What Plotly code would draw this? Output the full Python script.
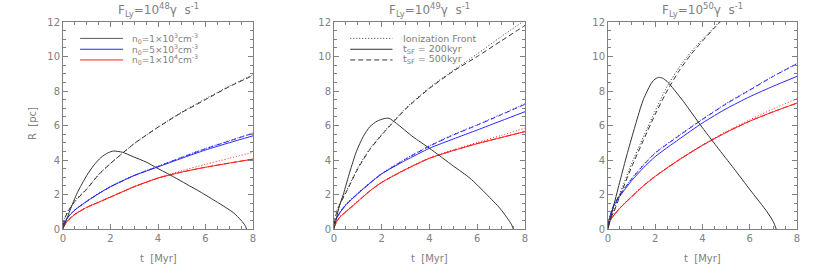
import plotly.graph_objects as go

# ---------------- data ----------------
T_GRID = [0, 0.1, 0.25, 0.5, 1, 1.5, 2, 3, 4, 5, 6, 7, 8]

# Panel 1: F_Ly = 1e48
P1_BLACK_200_T = [0, 0.3, 0.6, 1.0, 1.3, 1.6, 1.9, 2.12, 2.5, 2.96, 3.5, 3.94, 4.65, 5.2, 5.77, 6.5, 7.17, 7.5, 7.66, 7.73]
P1_BLACK_200_R = [0, 1.1, 2.1, 3.1, 3.7, 4.15, 4.42, 4.52, 4.45, 4.19, 3.88, 3.55, 3.03, 2.6, 2.16, 1.55, 0.95, 0.5, 0.22, 0]
P1_BLACK_500 = [0.2, 0.7, 1.1, 1.6, 2.3, 3.15, 3.8, 4.95, 5.9, 6.75, 7.5, 8.25, 8.9]
P1_BLACK_IF = [0.4, 0.75, 1.15, 1.65, 2.35, 3.15, 3.8, 4.95, 5.9, 6.78, 7.55, 8.28, 8.95]
P1_BLUE_200 = [0.2, 0.45, 0.75, 1.1, 1.6, 2.05, 2.45, 3.1, 3.6, 4.1, 4.58, 5.0, 5.4]
P1_BLUE_500 = [0.2, 0.45, 0.75, 1.1, 1.6, 2.05, 2.45, 3.1, 3.62, 4.15, 4.65, 5.1, 5.55]
P1_BLUE_IF = [0.25, 0.5, 0.78, 1.12, 1.62, 2.07, 2.47, 3.12, 3.64, 4.17, 4.67, 5.12, 5.57]
P1_RED_200 = [0.1, 0.3, 0.55, 0.85, 1.25, 1.55, 1.85, 2.45, 2.95, 3.3, 3.58, 3.82, 4.05]
P1_RED_500 = [0.1, 0.3, 0.55, 0.85, 1.25, 1.55, 1.85, 2.45, 2.95, 3.3, 3.58, 3.82, 4.05]
P1_RED_IF = [0.15, 0.35, 0.58, 0.87, 1.27, 1.57, 1.87, 2.47, 2.97, 3.38, 3.75, 4.1, 4.45]

# Panel 2: F_Ly = 1e49
P2_BLACK_200_T = [0, 0.2, 0.4, 0.66, 0.94, 1.22, 1.5, 1.8, 2.1, 2.3, 2.62, 3.31, 4.0, 5.0, 5.7, 6.4, 6.95, 7.25, 7.44, 7.51]
P2_BLACK_200_R = [0, 1.2, 2.05, 3.3, 4.5, 5.35, 5.93, 6.25, 6.4, 6.42, 6.12, 5.34, 4.68, 3.65, 2.94, 2.0, 1.2, 0.65, 0.25, 0]
P2_BLACK_500 = [0.3, 0.9, 1.45, 2.1, 3.5, 4.6, 5.45, 6.95, 8.15, 9.15, 10.0, 10.9, 11.8]
P2_BLACK_IF = [0.4, 1.0, 1.5, 2.15, 3.55, 4.65, 5.5, 7.0, 8.2, 9.2, 10.15, 11.15, 12.1]
P2_BLUE_200 = [0.3, 0.6, 0.95, 1.4, 2.05, 2.65, 3.2, 3.98, 4.68, 5.22, 5.74, 6.27, 6.8]
P2_BLUE_500 = [0.3, 0.6, 0.95, 1.4, 2.05, 2.65, 3.2, 4.05, 4.8, 5.45, 6.02, 6.62, 7.23]
P2_BLUE_IF = [0.35, 0.65, 1.0, 1.45, 2.1, 2.68, 3.23, 4.08, 4.83, 5.48, 6.05, 6.65, 7.27]
P2_RED_200 = [0.1, 0.4, 0.7, 1.0, 1.6, 2.2, 2.7, 3.45, 4.1, 4.55, 4.95, 5.3, 5.65]
P2_RED_500 = [0.1, 0.4, 0.7, 1.0, 1.6, 2.2, 2.7, 3.45, 4.1, 4.55, 4.95, 5.3, 5.65]
P2_RED_IF = [0.15, 0.45, 0.73, 1.03, 1.63, 2.23, 2.73, 3.48, 4.13, 4.6, 5.02, 5.42, 5.85]

# Panel 3: F_Ly = 1e50
P3_BLACK_200_T = [0, 0.24, 0.52, 0.8, 1.09, 1.37, 1.51, 1.79, 1.95, 2.14, 2.3, 2.5, 3.2, 3.91, 4.61, 5.32, 6.02, 6.73, 7.0, 7.12]
P3_BLACK_200_R = [0, 1.35, 2.85, 4.3, 5.7, 7.0, 7.55, 8.35, 8.65, 8.79, 8.75, 8.56, 7.38, 6.03, 4.77, 3.52, 2.26, 1.0, 0.42, 0]
P3_BLACK_T = [0, 0.1, 0.25, 0.5, 1, 1.5, 2, 2.5, 3, 3.5, 4, 4.5, 5]
P3_BLACK_500 = [0.2, 0.6, 1.0, 1.9, 3.6, 5.15, 6.65, 8.0, 9.15, 10.1, 10.9, 11.65, 12.35]
P3_BLACK_IF = [0.2, 0.7, 1.15, 2.05, 3.8, 5.35, 6.85, 8.25, 9.35, 10.25, 11.0, 11.7, 12.4]
P3_BLUE_200 = [0.3, 0.8, 1.35, 1.9, 2.8, 3.55, 4.2, 5.2, 6.15, 6.97, 7.67, 8.28, 8.85]
P3_BLUE_500 = [0.3, 0.8, 1.4, 1.97, 2.9, 3.7, 4.4, 5.4, 6.35, 7.25, 8.05, 8.85, 9.58]
P3_BLUE_IF = [0.35, 0.85, 1.45, 2.0, 2.93, 3.73, 4.43, 5.43, 6.38, 7.28, 8.08, 8.88, 9.6]
P3_RED_200 = [0.1, 0.5, 0.8, 1.2, 1.87, 2.5, 3.05, 4.0, 4.85, 5.6, 6.25, 6.8, 7.3]
P3_RED_500 = [0.1, 0.5, 0.8, 1.2, 1.87, 2.5, 3.05, 4.0, 4.85, 5.6, 6.25, 6.8, 7.3]
P3_RED_IF = [0.15, 0.55, 0.83, 1.23, 1.9, 2.53, 3.08, 4.03, 4.88, 5.65, 6.33, 6.97, 7.55]

TITLES = ["F<sub>Ly</sub>=10<sup>48</sup>γ  s<sup>-1</sup>",
          "F<sub>Ly</sub>=10<sup>49</sup>γ  s<sup>-1</sup>",
          "F<sub>Ly</sub>=10<sup>50</sup>γ  s<sup>-1</sup>"]
DENSITY_LABELS = ["n<sub>0</sub>=1×10<sup>3</sup>cm<sup>-3</sup>",
                  "n<sub>0</sub>=5×10<sup>3</sup>cm<sup>-3</sup>",
                  "n<sub>0</sub>=1×10<sup>4</sup>cm<sup>-3</sup>"]
STYLE_LABELS = ["Ionization Front", "t<sub>SF</sub> = 200kyr", "t<sub>SF</sub> = 500kyr"]
X_TICKS = [0, 2, 4, 6, 8]
Y_TICKS = [0, 2, 4, 6, 8, 10, 12]

# ---------------- styles ----------------
BLACK = "rgb(50,50,50)"
BLUE = "rgb(40,40,255)"
RED = "rgb(255,30,30)"
GRAY = "rgb(128,128,128)"
DOT = "1px,2px"
DASH = "5px,3px"
FONT = "DejaVu Sans"

fig = go.Figure()

panels = [
    dict(bt=P1_BLACK_200_T, br=P1_BLACK_200_R, tt=T_GRID, b5=P1_BLACK_500, bif=P1_BLACK_IF,
         u2=P1_BLUE_200, u5=P1_BLUE_500, uif=P1_BLUE_IF, r2=P1_RED_200, r5=P1_RED_500, rif=P1_RED_IF),
    dict(bt=P2_BLACK_200_T, br=P2_BLACK_200_R, tt=T_GRID, b5=P2_BLACK_500, bif=P2_BLACK_IF,
         u2=P2_BLUE_200, u5=P2_BLUE_500, uif=P2_BLUE_IF, r2=P2_RED_200, r5=P2_RED_500, rif=P2_RED_IF),
    dict(bt=P3_BLACK_200_T, br=P3_BLACK_200_R, tt=P3_BLACK_T, b5=P3_BLACK_500, bif=P3_BLACK_IF,
         u2=P3_BLUE_200, u5=P3_BLUE_500, uif=P3_BLUE_IF, r2=P3_RED_200, r5=P3_RED_500, rif=P3_RED_IF),
]

# body margin removed by post_script, so figure px == screen px
W, H = 817, 273
x_px = [(63, 253), (334, 525), (608, 797)]   # screen px
y_px = (22, 229)                              # screen px

def px_x(x):
    return x / W

def px_y(y):
    return 1 - y / H

def add(x, y, color, dash, i):
    suffix = "" if i == 0 else str(i + 1)
    fig.add_trace(go.Scatter(x=x, y=y, mode="lines", xaxis="x" + suffix, yaxis="y" + suffix,
                             line=dict(color=color, width=1, dash=dash, shape="spline", smoothing=0.6),
                             showlegend=False, hoverinfo="skip"))

for i, p in enumerate(panels):
    add(T_GRID, p["rif"], RED, DOT, i)
    add(T_GRID, p["r5"], RED, DASH, i)
    add(T_GRID, p["r2"], RED, "solid", i)
    add(T_GRID, p["uif"], BLUE, DOT, i)
    add(T_GRID, p["u5"], BLUE, DASH, i)
    add(T_GRID, p["u2"], BLUE, "solid", i)
    add(p["tt"], p["bif"], BLACK, DOT, i)
    add(p["tt"], p["b5"], BLACK, DASH, i)
    add(p["bt"], p["br"], BLACK, "solid", i)

axis_common = dict(showline=True, linecolor=GRAY, linewidth=1, mirror="ticks",
                   ticks="inside", ticklen=5, tickcolor=GRAY, tickwidth=1,
                   showgrid=False, zeroline=False, automargin=False,
                   tickfont=dict(family=FONT, size=10, color=GRAY),
                   minor=dict(ticks="inside", ticklen=3, dtick=0.5, tickcolor=GRAY, showgrid=False))

layout = dict(width=W, height=H, margin=dict(l=0, r=0, t=0, b=0, pad=0, autoexpand=False),
              paper_bgcolor="white", plot_bgcolor="white", showlegend=False)
annotations = []
shapes = []
for i in range(3):
    suffix = "" if i == 0 else str(i + 1)
    x0, x1 = x_px[i]
    layout["xaxis" + suffix] = dict(axis_common, domain=[px_x(x0), px_x(x1)], range=[0, 8],
                                    tickvals=X_TICKS, anchor="y" + suffix)
    layout["yaxis" + suffix] = dict(axis_common, domain=[px_y(y_px[1]), px_y(y_px[0])], range=[0, 12],
                                    tickvals=Y_TICKS, anchor="x" + suffix)
    cx = px_x((x0 + x1) / 2)
    annotations.append(dict(text=TITLES[i], x=cx, y=px_y(10.5), xref="paper", yref="paper",
                            showarrow=False, xanchor="center", yanchor="middle",
                            font=dict(family=FONT, size=12, color=GRAY)))
    annotations.append(dict(text="t  [Myr]", x=cx, y=px_y(258), xref="paper", yref="paper",
                            showarrow=False, xanchor="center", yanchor="middle",
                            font=dict(family=FONT, size=10, color=GRAY)))

annotations.append(dict(text="R  [pc]", x=px_x(33), y=px_y(124), xref="paper", yref="paper",
                        showarrow=False, textangle=-90, xanchor="center", yanchor="middle",
                        font=dict(family=FONT, size=10, color=GRAY)))

# legends
LEG_R = [11.05, 10.42, 9.8]
leg_colors = ["rgb(90,90,90)", BLUE, RED]
for k in range(3):
    shapes.append(dict(type="line", xref="x", yref="y", x0=0.72, x1=2.53, y0=LEG_R[k], y1=LEG_R[k],
                       line=dict(color=leg_colors[k], width=1)))
    annotations.append(dict(text=DENSITY_LABELS[k], x=2.8, y=LEG_R[k], xref="x", yref="y",
                            showarrow=False, xanchor="left", yanchor="middle",
                            font=dict(family=FONT, size=9, color=GRAY)))
leg_dash = [DOT, "solid", DASH]
for k in range(3):
    shapes.append(dict(type="line", xref="x2", yref="y2", x0=0.68, x1=2.45, y0=LEG_R[k], y1=LEG_R[k],
                       line=dict(color=BLACK, width=1, dash=leg_dash[k])))
    annotations.append(dict(text=STYLE_LABELS[k], x=2.8, y=LEG_R[k], xref="x2", yref="y2",
                            showarrow=False, xanchor="left", yanchor="middle",
                            font=dict(family=FONT, size=9.5, color=GRAY)))

layout["annotations"] = annotations
layout["shapes"] = shapes
fig.update_layout(**layout)
fig.write_html("out.html", config={"displayModeBar": False},
               post_script="document.body.style.margin='0';document.body.style.padding='0';")
